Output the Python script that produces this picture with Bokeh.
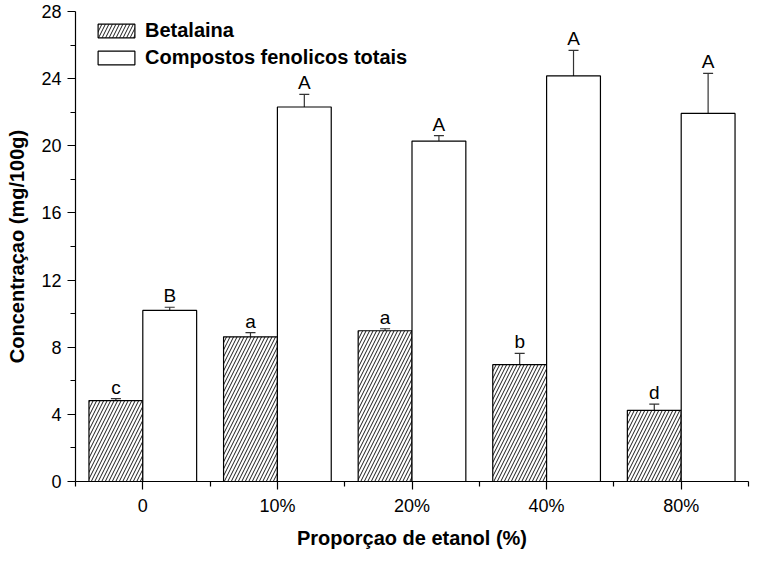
from bokeh.plotting import figure
from bokeh.models import (Range1d, FixedTicker, Whisker, TeeHead, ColumnDataSource,
                          Legend, LegendItem)
from bokeh.transform import dodge
from bokeh.embed import file_html
from bokeh.resources import INLINE
from bokeh.core.properties import value

categories = ["0", "10%", "20%", "40%", "80%"]
betalaina = [4.82, 8.62, 8.98, 6.96, 4.24]
betalaina_err = [0.12, 0.25, 0.12, 0.67, 0.37]
betalaina_letters = ["c", "a", "a", "b", "d"]
fenolicos = [10.19, 22.31, 20.28, 24.16, 21.93]
fenolicos_err = [0.19, 0.75, 0.32, 1.52, 2.38]
fenolicos_letters = ["B", "A", "A", "A", "A"]
y_ticks = [0, 4, 8, 12, 16, 20, 24, 28]
y_minor = [2, 6, 10, 14, 18, 22, 26]

FONT = "Liberation Sans"
xs = list(range(len(categories)))
off = 0.2

src = ColumnDataSource(dict(
    x=xs,
    xb=[x - off for x in xs],
    xf=[x + off for x in xs],
    bet=betalaina,
    bet_up=[v + e for v, e in zip(betalaina, betalaina_err)],
    bet_lo=[v - e for v, e in zip(betalaina, betalaina_err)],
    bet_lab=betalaina_letters,
    fen=fenolicos,
    fen_up=[v + e for v, e in zip(fenolicos, fenolicos_err)],
    fen_lo=[v - e for v, e in zip(fenolicos, fenolicos_err)],
    fen_lab=fenolicos_letters,
))

p = figure(width=750, height=551, output_backend="svg", toolbar_location=None,
           x_range=Range1d(-0.5, len(categories) - 0.5), y_range=Range1d(0, 28),
           min_border_left=75, min_border_right=2, min_border_top=11, min_border_bottom=67)
p.outline_line_color = None
p.xgrid.visible = False
p.ygrid.visible = False

r1 = p.vbar(x=dodge("x", -off), top="bet", width=0.4, source=src,
            fill_color="white", line_color="black", line_width=1.2,
            hatch_pattern="/", hatch_color="black", hatch_scale=7, hatch_weight=0.9)
r2 = p.vbar(x=dodge("x", off), top="fen", width=0.4, source=src,
            fill_color="white", line_color="black", line_width=1.2)

for base, up, lo in (("xb", "bet_up", "bet_lo"), ("xf", "fen_up", "fen_lo")):
    w = Whisker(base=base, upper=up, lower=lo, source=src, line_color="#333333", line_width=1.2,
                upper_head=TeeHead(size=10, line_color="#333333", line_width=1.2),
                lower_head=TeeHead(size=10, line_color="#333333", line_width=1.2))
    p.add_layout(w)

p.text(x="xb", y="bet_up", text="bet_lab", source=src, text_align="center",
       text_baseline="bottom", y_offset=-1, text_font=value(FONT), text_font_size="19px",
       text_color="black")
p.text(x="xf", y="fen_up", text="fen_lab", source=src, text_align="center",
       text_baseline="bottom", y_offset=-1, text_font=value(FONT), text_font_size="19px",
       text_color="black")

xa = p.xaxis[0]
xa.ticker = FixedTicker(ticks=xs, minor_ticks=[x - 0.5 for x in xs] + [xs[-1] + 0.5])
xa.major_label_overrides = {i: c for i, c in enumerate(categories)}
ya = p.yaxis[0]
ya.ticker = FixedTicker(ticks=y_ticks, minor_ticks=y_minor)

for ax in (xa, ya):
    ax.axis_line_color = "black"
    ax.axis_line_width = 1.2
    ax.major_tick_line_color = "black"
    ax.minor_tick_line_color = "black"
    ax.major_tick_line_width = 1.2
    ax.minor_tick_line_width = 1.2
    ax.major_tick_in = 0
    ax.major_tick_out = 8
    ax.minor_tick_in = 0
    ax.minor_tick_out = 5
    ax.major_label_text_font = FONT
    ax.major_label_text_font_size = "18px"
    ax.major_label_text_color = "black"
    ax.axis_label_text_font = FONT
    ax.axis_label_text_font_size = "20px"
    ax.axis_label_text_font_style = "bold"
    ax.axis_label_text_color = "black"

xa.axis_label = "Proporçao de etanol (%)"
ya.axis_label = "Concentraçao (mg/100g)"
xa.major_label_standoff = 6
xa.axis_label_standoff = 8
ya.major_label_standoff = 6
ya.axis_label_standoff = 10

legend = Legend(items=[LegendItem(label="Betalaina", renderers=[r1]),
                       LegendItem(label="Compostos fenolicos totais", renderers=[r2])],
                location=(18, 412), orientation="vertical")
legend.border_line_color = None
legend.background_fill_alpha = 0
legend.padding = 0
legend.margin = 0
legend.spacing = 4
legend.glyph_width = 46
legend.glyph_height = 17
legend.label_height = 17
legend.label_standoff = 6
legend.label_text_font = FONT
legend.label_text_font_size = "20px"
legend.label_text_font_style = "bold"
legend.label_text_color = "black"
legend.label_text_baseline = "middle"
p.add_layout(legend)

open("out.html", "w").write(file_html(p, INLINE))
